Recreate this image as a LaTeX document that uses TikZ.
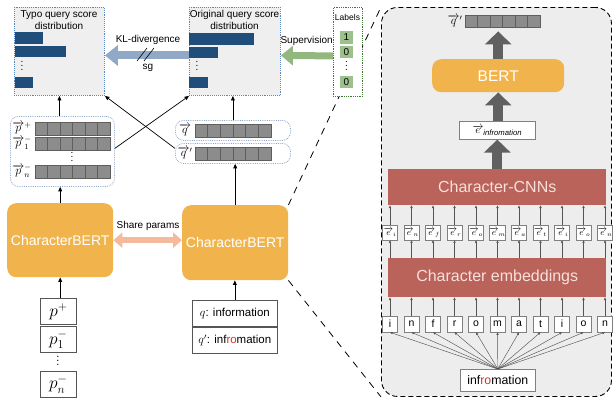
\documentclass[tikz,border=0pt]{standalone}
\usepackage{amsmath}
\usepackage{fontspec}
\setmainfont{Liberation Sans}
\usetikzlibrary{arrows.meta}
\definecolor{distblue}{HTML}{5A86C0}
\definecolor{boxgray}{HTML}{EFEFEF}
\definecolor{barblue}{HTML}{1F4E7A}
\definecolor{klblue}{HTML}{91A9C6}
\definecolor{supgreen}{HTML}{93B87F}
\definecolor{labgreen}{HTML}{9CC18C}
\definecolor{labborder}{HTML}{3D7A2F}
\definecolor{cellgray}{HTML}{8C8C8C}
\definecolor{cellborder}{HTML}{5E5E5E}
\definecolor{grpblue}{HTML}{8FA9CC}
\definecolor{orng}{HTML}{F1B44C}
\definecolor{peach}{HTML}{F5BA9C}
\definecolor{redbrown}{HTML}{B9635A}
\definecolor{redtext}{HTML}{F8E0DC}
\definecolor{panelgray}{HTML}{EDEDED}
\definecolor{bigarrgray}{HTML}{606060}
\definecolor{wred}{HTML}{D0342C}
\definecolor{linegray}{HTML}{555555}
\newcommand\vecrow[4]{% x y cellwidth height
  \foreach \k in {0,...,5}{\draw[cell] ({#1+\k*#3},#2) rectangle ++(#3,#4);}}
\newcommand\fsz[1]{\fontsize{#1}{#1}\selectfont}
\tikzset{
  distbox/.style={draw=distblue, densely dotted, line width=0.9pt, fill=boxgray, minimum width=90, minimum height=88, anchor=north west, inner sep=0},
  bar/.style={fill=barblue},
  cell/.style={fill=cellgray, draw=cellborder, line width=0.5pt},
  grp/.style={draw=grpblue, densely dotted, line width=0.8pt, rounded corners=8, fill=white, anchor=north west, inner sep=0},
  orangebox/.style={fill=orng, rounded corners=9, text=white, font=\fsz{14}, anchor=north west, inner sep=0},
  redbox/.style={fill=redbrown, text=redtext, font=\fsz{16}, anchor=north west, inner sep=0, minimum width=218},
  panel/.style={draw=black, fill=panelgray, rounded corners=16, line width=0.9pt, dash pattern=on 5pt off 3pt},
  zoomline/.style={draw=black, line width=0.8pt, dash pattern=on 7pt off 6pt},
  arr/.style={draw=black, line width=0.7pt, -{Triangle[length=4.5pt,width=3.8pt]}},
  tinyarr/.style={draw=linegray, line width=0.45pt, -{Triangle[length=2.6pt,width=2.2pt]}},
  bigarr/.style={draw=bigarrgray, line width=10pt, -{Triangle[length=13pt,width=26pt]}},
  klarrow/.style={draw=klblue, line width=8pt, -{Triangle[length=13pt,width=20pt]}},
  suparrow/.style={draw=supgreen, line width=7pt, -{Triangle[length=12pt,width=19pt]}},
  sharearrow/.style={draw=peach, line width=6pt, {Triangle[length=9pt,width=15pt]}-{Triangle[length=9pt,width=15pt]}},
  pbox/.style={draw=linegray, line width=0.7pt, fill=white, anchor=north west, inner sep=0, font=\fsz{18}},
  qbox/.style={draw=linegray, line width=0.7pt, fill=white, anchor=north west, inner sep=0, font=\fsz{11.5}, minimum width=85, minimum height=26},
  labsq/.style={fill=labgreen, minimum width=13, minimum height=12.5, inner sep=0, font=\fsz{10}},
  ebox/.style={draw=gray, line width=0.6pt, fill=white, inner sep=0},
  letbox/.style={draw=gray, line width=0.6pt, fill=white, inner sep=0, minimum width=15, minimum height=16, font=\fsz{10.5}},
  txt/.style={inner sep=0, font=\fsz{10}},
  dots/.style={inner sep=0, font=\fsz{10}, text height=6pt, text depth=0pt},
}
\begin{document}
\begin{tikzpicture}[x=1pt,y=-1pt]
\useasboundingbox (0,0) rectangle (613,400);

% right panel
\node[panel, minimum width=230, minimum height=389, anchor=north west] (panel) at (381,7) {};

% CharacterBERT boxes
\node[orangebox, minimum width=106, minimum height=74] (cbL) at (7,203) {CharacterBERT};
\node[orangebox, minimum width=106, minimum height=75] (cbR) at (182,205) {CharacterBERT};

% zoom lines
\draw[zoomline] (cbR.north east) -- (panel.north west);
\draw[zoomline] (cbR.south east) -- (panel.south west);

% score distribution boxes
\node[distbox] (typo) at (14,7) {};
\node[txt, align=center, anchor=north, font=\fsz{10}, text depth=0] (typot) at (59,10) {Typo query score\\[2pt]distribution};
\fill[bar] (15,32) rectangle (43,44);
\fill[bar] (15,46) rectangle (66,57);
\node[dots] (typodots) at (22,67) {$\vdots$};
\fill[bar] (15,77) rectangle (33,88);

\node[distbox, minimum width=91] (orig) at (189,7) {};
\node[txt, align=center, anchor=north, text depth=0] (origt) at (234.5,10) {Original query score\\[2pt]distribution};
\fill[bar] (189,33) rectangle (254,45);
\fill[bar] (189,47) rectangle (218,58);
\node[dots] (origdots) at (197,67) {$\vdots$};
\fill[bar] (189,77) rectangle (208,88);

% KL arrow
\draw[klarrow] ([yshift=-4pt]orig.west) -- ([yshift=-4pt]typo.east);
\node[txt] (kl) at (148,40) {KL-divergence};
\node[txt] (sg) at (148,68) {sg};
\draw[line width=0.6pt] (137,61) -- (147,48);
\draw[line width=0.6pt] (144,61) -- (154,48);

% labels box
\node[draw=labborder, densely dotted, line width=0.8pt, fill=white, minimum width=29, minimum height=89, anchor=north west, inner sep=0] (labels) at (333,7) {};
\node[txt, font=\fsz{8.5}] (labt) at (347.5,17) {Labels};
\node[labsq] (lab1) at (346.5,37.5) {1};
\node[labsq] (lab2) at (346.5,52) {0};
\node[dots] (labdots) at (346.5,67) {$\vdots$};
\node[labsq] (lab3) at (346.5,82) {0};
\draw[suparrow] ([yshift=-4pt]labels.west) -- ([yshift=-4pt]orig.east);
\node[txt, anchor=east] (supt) at (333,41) {Supervision};

% left vector group
\node[grp, minimum width=104, minimum height=70] (lg) at (10,116) {};
\vecrow{35}{122}{12.5}{13}
\vecrow{35}{137}{12.5}{13}
\vecrow{35}{165}{12.5}{13}
\node[txt, font=\fsz{12}] (lp1) at (22,128) {$\overrightarrow{p}^{+}$};
\node[txt, font=\fsz{12}] (lp2) at (22,143) {$\overrightarrow{p}_{1}^{-}$};
\node[txt, font=\fsz{12}] (lp3) at (22,171) {$\overrightarrow{p}_{n}^{-}$};
\node[dots] (lgdots) at (72,158) {$\vdots$};

% right vector groups
\node[grp, minimum width=115, minimum height=20] (qg) at (175,120) {};
\node[grp, minimum width=115, minimum height=20] (qpg) at (175,143) {};
\vecrow{195}{124}{12.67}{13}
\vecrow{195}{147}{12.67}{13}
\node[txt, font=\fsz{12}] (lq) at (185,130) {$\overrightarrow{q}$};
\node[txt, font=\fsz{12}] (lqp) at (185,153) {$\overrightarrow{q}'$};

% connectors
\draw[arr] (lg.north -| typo.south) -- (typo.south);
\draw[arr] (cbL.north) -- (cbL.north |- lg.south);
\draw[arr] (qg.north) -- (qg.north |- orig.south);
\draw[arr] (cbR.north) -- (cbR.north |- qpg.south);
\draw[arr] ([yshift=3pt]lg.east) -- (orig.south west);
\draw[arr] ([yshift=5pt]qpg.west) -- (typo.south east);

% share params
\draw[sharearrow] (cbL.east) -- (cbL.east -| cbR.west);
\node[txt] (share) at (148,226) {Share params};

% p boxes
\node[pbox, minimum width=36, minimum height=26] (pp) at (40,298) {$p^{+}$};
\node[pbox, minimum width=36, minimum height=26] (p1) at (40,326) {$p_{1}^{-}$};
\node[dots, font=\fsz{11}] (pdots) at (58,362) {$\vdots$};
\node[pbox, minimum width=36, minimum height=26] (pn) at (40,371) {$p_{n}^{-}$};
\draw[arr] (pp.north -| cbL.south) -- (cbL.south);

% q boxes
\node[qbox] (qb) at (192,300) {$q$: information};
\node[qbox] (qpb) at (192,327) {$q'$: inf\textcolor{wred}{ro}mation};
\draw[arr] (qb.north) -- (qb.north |- cbR.south);

% ===== right panel contents =====
\node[inner sep=0, minimum width=75, minimum height=12, anchor=north west] (topvec) at (465,15) {};
\vecrow{465}{15}{12.5}{12}
\node[txt, font=\fsz{12}] (topq) at (455,21) {$\overrightarrow{q}'$};

\node[orangebox, minimum width=132, minimum height=33, font=\fsz{15.5}] (bert) at (432,59) {BERT};
\node[ebox, minimum width=76, minimum height=18, anchor=north west, font=\fsz{11}] (einf) at (459,121) {$\overrightarrow{e}_{\mathit{infromation}}$};
\node[redbox, minimum height=36] (cnn) at (388,169) {Character-CNNs};
\node[redbox, minimum height=39] (emb) at (388,258) {Character embeddings};

\draw[bigarr] (bert.north) -- ([yshift=-4pt]bert.north |- topvec.south);
\draw[bigarr] (einf.north -| bert.south) -- (bert.south);
\draw[bigarr] (cnn.north -| einf.south) -- (einf.south);

\node[draw=gray, line width=0.6pt, fill=white, inner sep=0, minimum width=75, minimum height=22, anchor=north west, font=\fsz{12.3}] (word) at (460,369) {inf\textcolor{wred}{ro}mation};

\foreach \ch [count=\i from 0] in {i,n,f,r,o,m,a,t,i,o,n}{
  \node[ebox, minimum width=15, minimum height=15, font=\fsz{9}] (e\i) at ({390+21.5*\i},232.5) {$\overrightarrow{e}_{\ch}$};
  \node[letbox] (c\i) at ({390+21.5*\i},324) {\ch};
  \draw[tinyarr] (e\i.north) -- (e\i.north |- cnn.south);
  \draw[tinyarr] (e\i.south |- emb.north) -- (e\i.south);
  \draw[tinyarr] (c\i.north) -- (c\i.north |- emb.south);
  \draw[tinyarr] (word.north) -- (c\i.south);
}
\end{tikzpicture}
\end{document}
